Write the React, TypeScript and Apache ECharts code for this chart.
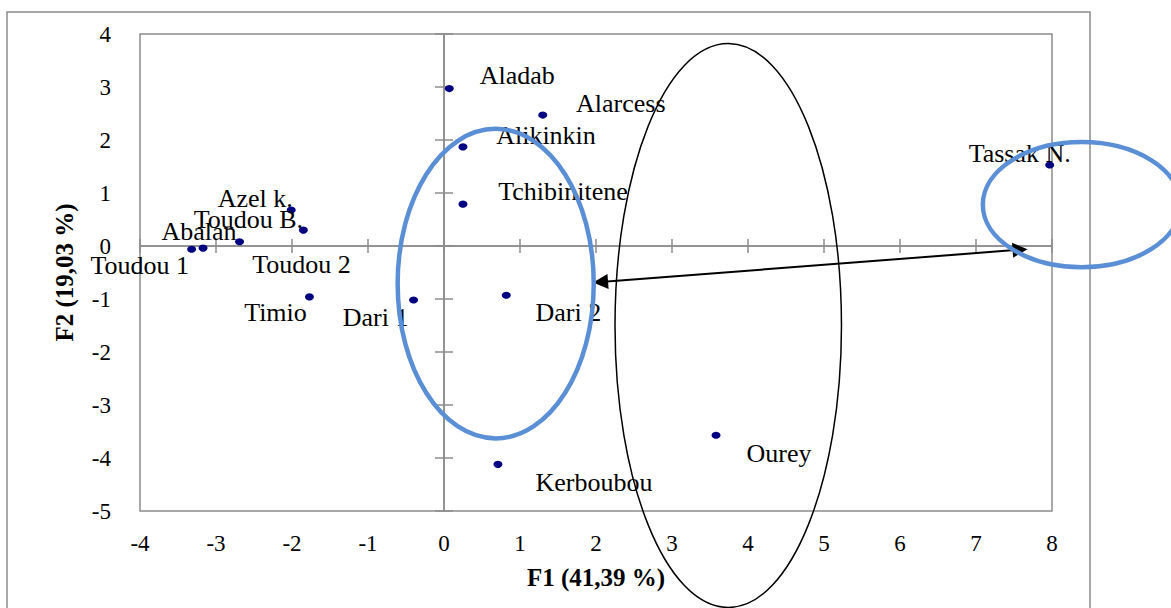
import React, { useEffect, useRef } from "react";
import * as echarts from "echarts";

// ---- data ----
const names = [
  "Aladab", "Alarcess", "Alikinkin", "Tchibinitene", "Tassak N.",
  "Azel k.", "Toudou B.", "Abalan", "Toudou 1", "Toudou 2",
  "Timio", "Dari 1", "Dari 2", "Kerboubou", "Ourey",
];
const f1Values = [0.07, 1.3, 0.25, 0.25, 7.97, -2.01, -1.85, -3.17, -3.32, -2.69, -1.77, -0.4, 0.82, 0.71, 3.58];
const f2Values = [2.97, 2.47, 1.87, 0.79, 1.53, 0.68, 0.3, -0.04, -0.06, 0.08, -0.96, -1.02, -0.93, -4.12, -3.57];
const xTickValues = [-4, -3, -2, -1, 0, 1, 2, 3, 4, 5, 6, 7, 8];
const yTickValues = [-5, -4, -3, -2, -1, 0, 1, 2, 3, 4];
const xTitle = "F1 (41,39 %)";
const yTitle = "F2 (19,03 %)";

// annotations in data units (arrow endpoints = centres of the arrow heads)
const arrowFrom = [2.06, -0.68];
const arrowTo = [7.58, -0.07];
const annotationEllipses = [
  { cx: 0.68, cy: -0.71, rx: 1.29, ry: 2.92, color: "#5a8fd6", width: 4.5 },
  { cx: 3.74, cy: -1.5, rx: 1.49, ry: 5.32, color: "#000000", width: 1.5 },
  { cx: 8.39, cy: 0.78, rx: 1.3, ry: 1.18, color: "#5a8fd6", width: 4.5 },
];

// label placement (pixels relative to the point, label centred)
const labelOffsets: Record<string, [number, number]> = {
  "Aladab": [68, -13],
  "Alarcess": [78, -12],
  "Alikinkin": [83, -11],
  "Tchibinitene": [100, -13],
  "Tassak N.": [-30, -11],
  "Azel k.": [-36, -11],
  "Toudou B.": [-55, -11],
  "Abalan": [-4, -17],
  "Toudou 1": [-52, 16],
  "Toudou 2": [62, 23],
  "Timio": [-34, 16],
  "Dari 1": [-38, 17],
  "Dari 2": [62, 17],
  "Kerboubou": [96, 18],
  "Ourey": [63, 18],
};

const FONT = "'Liberation Serif', 'Times New Roman', serif";
const GRAY = "#8c8c8c";

export default function App() {
  const ref = useRef<HTMLDivElement>(null);

  useEffect(() => {
    if (!ref.current) return;
    const chart = echarts.init(ref.current, undefined, { renderer: "svg" });

    const xMin = xTickValues[0];
    const xMax = xTickValues[xTickValues.length - 1];
    const yMin = yTickValues[0];
    const yMax = yTickValues[yTickValues.length - 1];

    const baseX = { type: "value", min: xMin, max: xMax, interval: 1, gridIndex: 0, splitLine: { show: false } };
    const baseY = { type: "value", min: yMin, max: yMax, interval: 1, gridIndex: 0, splitLine: { show: false } };

    const points = names.map((n, i) => {
      const off = labelOffsets[n] || [0, -14];
      return {
        name: n,
        value: [f1Values[i], f2Values[i]],
        label: { offset: off },
      };
    });

    chart.setOption({
      animation: false,
      backgroundColor: "#ffffff",
      grid: {
        left: 140, top: 34, right: 119, bottom: 97,
        show: true, borderColor: GRAY, borderWidth: 1.5, backgroundColor: "transparent",
      },
      xAxis: [
        {
          ...baseX,
          position: "bottom",
          axisLine: { show: false, onZero: false },
          axisTick: { show: false },
          axisLabel: { fontSize: 23, color: "#000", fontFamily: FONT, margin: 21 },
          name: xTitle,
          nameLocation: "middle",
          nameGap: 54,
          nameTextStyle: { fontSize: 25, fontWeight: "bold", color: "#000", fontFamily: FONT },
        },
        {
          ...baseX,
          position: "bottom",
          axisLine: { show: true, onZero: true, onZeroAxisIndex: 0, lineStyle: { color: GRAY, width: 1.5 } },
          axisTick: { show: true, inside: true, length: 7, lineStyle: { color: GRAY, width: 1.5 } },
          axisLabel: { show: false },
        },
        {
          ...baseX,
          position: "top",
          axisLine: { show: true, onZero: true, onZeroAxisIndex: 0, lineStyle: { color: GRAY, width: 1.5 } },
          axisTick: { show: true, inside: true, length: 7, lineStyle: { color: GRAY, width: 1.5 } },
          axisLabel: { show: false },
        },
      ],
      yAxis: [
        {
          ...baseY,
          position: "left",
          axisLine: { show: false, onZero: false },
          axisTick: { show: false },
          axisLabel: { fontSize: 23, color: "#000", fontFamily: FONT, margin: 29 },
          name: yTitle,
          nameLocation: "middle",
          nameGap: 63,
          nameTextStyle: { fontSize: 25, fontWeight: "bold", color: "#000", fontFamily: FONT },
        },
        {
          ...baseY,
          position: "left",
          axisLine: { show: true, onZero: true, onZeroAxisIndex: 0, lineStyle: { color: GRAY, width: 1.5 } },
          axisTick: { show: true, inside: true, length: 9, lineStyle: { color: GRAY, width: 1.5 } },
          axisLabel: { show: false },
        },
        {
          ...baseY,
          position: "right",
          axisLine: { show: true, onZero: true, onZeroAxisIndex: 0, lineStyle: { color: GRAY, width: 1.5 } },
          axisTick: { show: true, inside: true, length: 9, lineStyle: { color: GRAY, width: 1.5 } },
          axisLabel: { show: false },
        },
      ],
      series: [
        {
          type: "scatter",
          xAxisIndex: 0,
          yAxisIndex: 0,
          symbol: "circle",
          symbolSize: [9, 7],
          itemStyle: { color: "#000080", opacity: 1 },
          label: {
            show: true,
            formatter: "{b}",
            position: "inside",
            align: "center",
            verticalAlign: "middle",
            fontSize: 26,
            color: "#000",
            fontFamily: FONT,
          },
          emphasis: { disabled: true },
          data: points,
          z: 5,
        },
        {
          type: "lines",
          coordinateSystem: "cartesian2d",
          xAxisIndex: 0,
          yAxisIndex: 0,
          symbol: ["triangle", "triangle"],
          symbolSize: 15,
          lineStyle: { color: "#000", width: 2, curveness: 0, opacity: 1 },
          itemStyle: { color: "#000" },
          emphasis: { disabled: true },
          data: [{ coords: [arrowFrom, arrowTo] }],
          z: 6,
        },
      ],
    });

    const toPx = (x: number, y: number) =>
      chart.convertToPixel({ xAxisIndex: 0, yAxisIndex: 0 } as any, [x, y]) as number[];

    const ellipseGraphics = annotationEllipses.map((e) => {
      const c = toPx(e.cx, e.cy);
      const rxp = Math.abs(toPx(e.cx + e.rx, e.cy)[0] - c[0]);
      const ryp = Math.abs(toPx(e.cx, e.cy + e.ry)[1] - c[1]);
      return {
        type: "ellipse",
        shape: { cx: c[0], cy: c[1], rx: rxp, ry: ryp },
        style: { fill: "none", stroke: e.color, lineWidth: e.width },
        silent: true,
        z: 100,
      };
    });

    chart.setOption({
      graphic: [
        {
          type: "rect",
          shape: { x: 7, y: 12, width: 1083, height: 620 },
          style: { fill: "none", stroke: GRAY, lineWidth: 1.5 },
          silent: true,
          z: 1,
        },
        ...ellipseGraphics,
      ],
    });

    return () => chart.dispose();
  }, []);

  return (
    <div
      ref={ref}
      style={{ position: "fixed", left: 0, top: 0, width: 1171, height: 608, background: "#fff" }}
    />
  );
}
